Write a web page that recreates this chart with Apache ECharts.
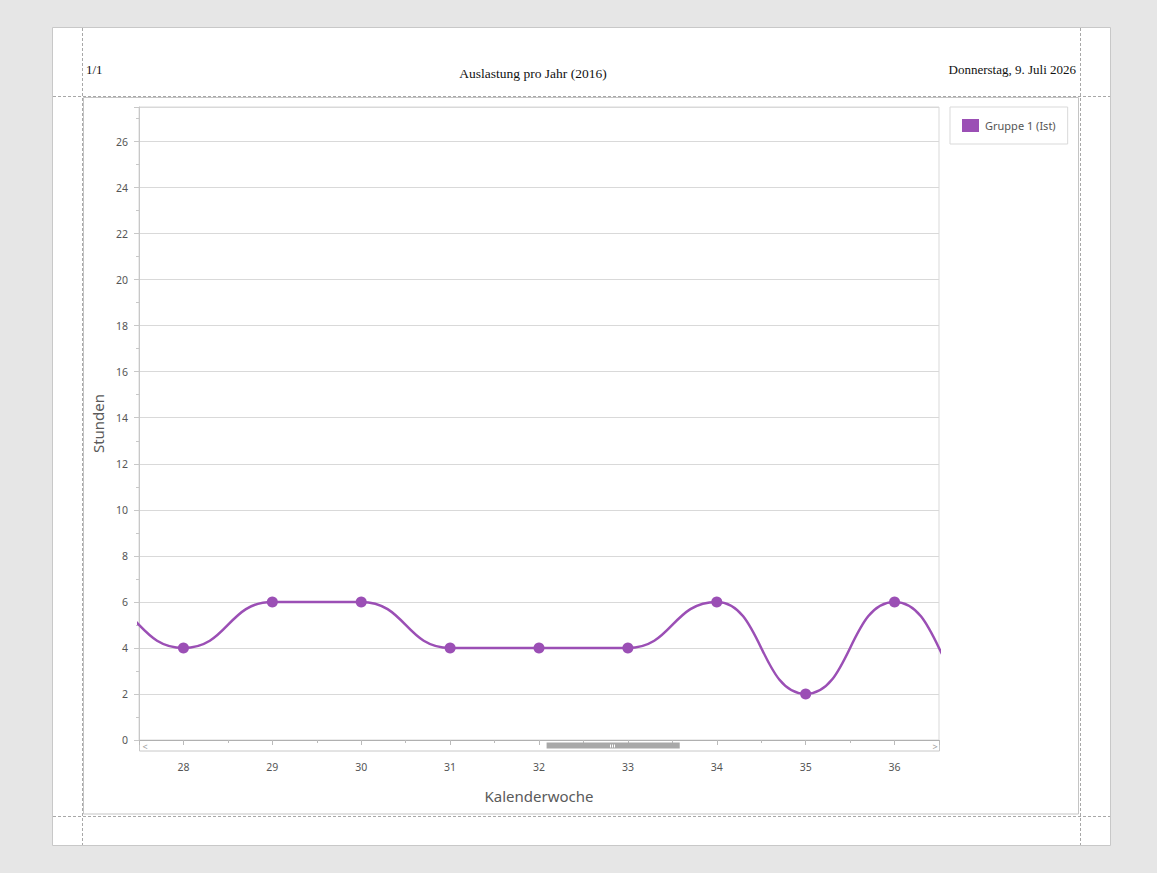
<!DOCTYPE html>
<html>
<head>
<meta charset="utf-8">
<script src="https://cdn.jsdelivr.net/npm/echarts@6/dist/echarts.min.js"></script>
<style>
html,body{margin:0;padding:0;background:#e6e6e6;}
#chart{width:1157px;height:873px;}
</style>
</head>
<body>
<div id="chart"></div>
<script>
// ---- data ----
const weeks = [26, 27, 28, 29, 30, 31, 32, 33, 34, 35, 36, 37, 38];
const hours = [4, 6, 4, 6, 6, 4, 4, 4, 6, 2, 6, 2, 4];
const seriesName = 'Gruppe 1 (Ist)';
const pageNumber = '1/1';
const reportTitle = 'Auslastung pro Jahr (2016)';
const reportDate = 'Donnerstag, 9. Juli 2026';
const yAxisTitle = 'Stunden';
const xAxisTitle = 'Kalenderwoche';
const weekRange = [0.5, 53.5];      // whole year on the axis
const visibleWeeks = [27.5, 36.5];  // visible window (scroll position)

const purple = '#9b4fb5';
const sans = '"Noto Sans", "Open Sans", sans-serif';
const serif = '"Liberation Serif", "DejaVu Serif", serif';

const chart = echarts.init(document.getElementById('chart'), null, {renderer: 'svg'});

const dash = {stroke: '#a8a8a8', lineWidth: 1, lineDash: [3, 2]};
const clear = 'rgba(0,0,0,0)';

chart.setOption({
  animation: false,
  backgroundColor: '#e6e6e6',
  graphic: [
    {type: 'rect', z: -10, shape: {x: 52.5, y: 27.5, width: 1058, height: 818}, style: {fill: '#ffffff', stroke: '#c8c8c8', lineWidth: 1}},
    {type: 'rect', z: -9, shape: {x: 83.5, y: 97.5, width: 995, height: 716.5}, style: {fill: 'none', stroke: '#c4c4c4', lineWidth: 1}},
    {type: 'line', z: -8, shape: {x1: 82.5, y1: 28, x2: 82.5, y2: 845}, style: dash},
    {type: 'line', z: -8, shape: {x1: 1080.5, y1: 28, x2: 1080.5, y2: 845}, style: dash},
    {type: 'line', z: -8, shape: {x1: 53, y1: 96.5, x2: 1110, y2: 96.5}, style: dash},
    {type: 'line', z: -8, shape: {x1: 53, y1: 816.5, x2: 1110, y2: 816.5}, style: dash},
    {type: 'text', z: 5, style: {text: pageNumber, x: 86, y: 69, textVerticalAlign: 'middle', textAlign: 'left', font: '13px ' + serif, fill: '#111'}},
    {type: 'text', z: 5, style: {text: reportTitle, x: 533, y: 73, textVerticalAlign: 'middle', textAlign: 'center', font: '13.5px ' + serif, fill: '#111'}},
    {type: 'text', z: 5, style: {text: reportDate, x: 1076, y: 69, textVerticalAlign: 'middle', textAlign: 'right', font: '13px ' + serif, fill: '#111'}},
    // scrollbar frame and arrows
    {type: 'rect', z: -1, shape: {x: 139.5, y: 740.5, width: 800, height: 10.5}, style: {fill: 'none', stroke: '#c8c8c8', lineWidth: 1}},
    {type: 'text', z: 2, style: {text: '<', x: 145, y: 746, textAlign: 'center', textVerticalAlign: 'middle', font: '9px ' + sans, fill: '#9a9a9a'}},
    {type: 'text', z: 2, style: {text: '>', x: 935, y: 746, textAlign: 'center', textVerticalAlign: 'middle', font: '9px ' + sans, fill: '#9a9a9a'}},
    {type: 'rect', z: 50, shape: {x: 610, y: 744.5, width: 1, height: 3}, style: {fill: '#ffffff'}},
    {type: 'rect', z: 50, shape: {x: 612, y: 744.5, width: 1, height: 3}, style: {fill: '#ffffff'}},
    {type: 'rect', z: 50, shape: {x: 614, y: 744.5, width: 1, height: 3}, style: {fill: '#ffffff'}}
  ],
  legend: {
    show: true,
    left: 950, top: 107,
    orient: 'vertical',
    padding: [12, 12, 12, 12],
    backgroundColor: '#ffffff',
    borderColor: '#d9d9d9',
    borderWidth: 1,
    icon: 'rect',
    itemWidth: 17, itemHeight: 13, itemGap: 6,
    textStyle: {color: '#555555', fontSize: 11, fontFamily: sans, padding: [0, 0, 0, 1]},
    data: [seriesName]
  },
  grid: {
    left: 139, top: 107, width: 800, height: 633,
    show: true, borderColor: '#d9d9d9', borderWidth: 1, backgroundColor: '#ffffff',
    containLabel: false
  },
  xAxis: {
    type: 'value',
    min: weekRange[0], max: weekRange[1],
    minInterval: 1, maxInterval: 1, splitNumber: 9,
    offset: 11,
    name: xAxisTitle, nameLocation: 'middle', nameGap: 37,
    nameTextStyle: {color: '#5a5a5a', fontSize: 15, fontFamily: sans},
    axisLine: {show: true, lineStyle: {color: '#b0b0b0', width: 1}},
    axisTick: {show: true, length: 5, lineStyle: {color: '#bbbbbb'}},
    minorTick: {show: true, splitNumber: 2, length: 3, lineStyle: {color: '#bbbbbb'}},
    splitLine: {show: false},
    minorSplitLine: {show: false},
    axisLabel: {
      showMinLabel: false, showMaxLabel: false,
      color: '#555555', fontSize: 10.5, fontFamily: sans, margin: 10,
      formatter: function (v) { return Number.isInteger(v) ? String(v) : ''; }
    }
  },
  yAxis: {
    type: 'value',
    min: 0, max: 27.5, interval: 2,
    name: yAxisTitle, nameLocation: 'middle', nameGap: 34,
    nameTextStyle: {color: '#5a5a5a', fontSize: 15, fontFamily: sans},
    axisLine: {show: true, lineStyle: {color: '#c8c8c8', width: 1}},
    axisTick: {show: true, length: 5, lineStyle: {color: '#c8c8c8'}},
    minorTick: {show: true, splitNumber: 2, length: 3, lineStyle: {color: '#c8c8c8'}},
    splitLine: {show: true, lineStyle: {color: '#d9d9d9', width: 1}},
    axisLabel: {showMaxLabel: false, color: '#555555', fontSize: 10.5, fontFamily: sans, margin: 11}
  },
  dataZoom: [{
    type: 'slider',
    show: true,
    xAxisIndex: 0,
    filterMode: 'none',
    startValue: visibleWeeks[0], endValue: visibleWeeks[1],
    left: 147, right: 226, top: 742.5, height: 6,
    zoomLock: true,
    showDataShadow: false, showDetail: false, brushSelect: false,
    backgroundColor: clear, borderColor: clear, borderRadius: 0,
    fillerColor: '#a8a8a8',
    handleSize: '100%',
    handleStyle: {color: clear, borderColor: clear, borderWidth: 0, shadowBlur: 0},
    moveHandleSize: 0,
    moveHandleStyle: {color: clear},
    dataBackground: {lineStyle: {opacity: 0}, areaStyle: {opacity: 0}},
    selectedDataBackground: {lineStyle: {opacity: 0}, areaStyle: {opacity: 0}},
    emphasis: {handleStyle: {color: clear, borderColor: clear}, moveHandleStyle: {color: clear}},
    z: 10
  }],
  series: [{
    name: seriesName,
    type: 'line',
    data: weeks.map(function (w, i) { return [w, hours[i]]; }),
    smooth: 0.5,
    smoothMonotone: 'x',
    clip: true,
    symbol: 'circle',
    symbolSize: 11,
    showSymbol: true,
    color: purple,
    itemStyle: {color: purple},
    lineStyle: {color: purple, width: 2.5}
  }]
});
</script>
</body>
</html>
